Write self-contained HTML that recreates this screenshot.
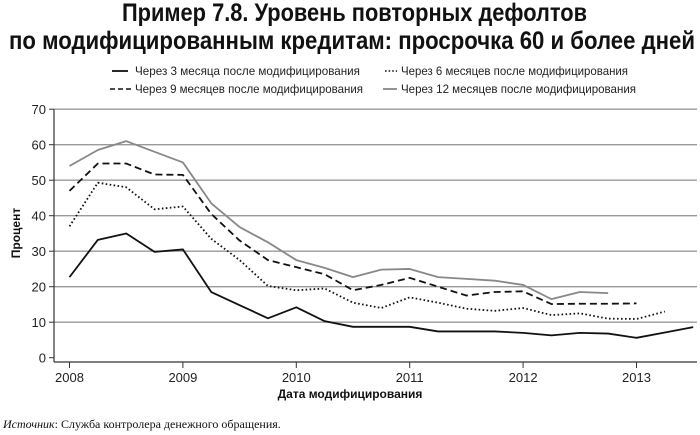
<!DOCTYPE html>
<html><head><meta charset="utf-8"><style>
html,body{margin:0;padding:0;background:#fff;}
svg{display:block;font-family:"Liberation Sans",sans-serif;}
</style></head><body>
<svg id="chart" width="700" height="435" viewBox="0 0 700 435">
<g font-weight="bold" font-size="25" fill="#111">
<text x="122" y="21" textLength="465" lengthAdjust="spacingAndGlyphs">Пример 7.8. Уровень повторных дефолтов</text>
<text x="9" y="49" textLength="686" lengthAdjust="spacingAndGlyphs">по модифицированным кредитам: просрочка 60 и более дней</text>
</g>
<g font-size="12" fill="#222">
<g><line x1="112" y1="71" x2="128" y2="71" stroke="#111" stroke-width="1.8"/><text x="135" y="75" textLength="225" lengthAdjust="spacingAndGlyphs">Через 3 месяца после модифицирования</text></g>
<g><line x1="385" y1="71" x2="397" y2="71" stroke="#111" stroke-width="1.6" stroke-dasharray="1.6,2"/><text x="401" y="75" textLength="227" lengthAdjust="spacingAndGlyphs">Через 6 месяцев после модифицирования</text></g>
<g><line x1="110" y1="89" x2="132" y2="89" stroke="#111" stroke-width="1.6" stroke-dasharray="5,3"/><text x="135" y="93" textLength="228" lengthAdjust="spacingAndGlyphs">Через 9 месяцев после модифицирования</text></g>
<g><line x1="383" y1="89" x2="397" y2="89" stroke="#888" stroke-width="1.8"/><text x="401" y="93" textLength="235" lengthAdjust="spacingAndGlyphs">Через 12 месяцев после модифицирования</text></g>
</g>
<g id="grid"></g><g id="axes"></g><g id="series"></g>
<text x="20" y="233" transform="rotate(-90 20 233)" text-anchor="middle" font-size="12" font-weight="bold" fill="#111">Процент</text>
<text x="350" y="398" text-anchor="middle" font-size="12" font-weight="bold" fill="#111">Дата модифицирования</text>
<text x="3" y="428" font-size="12" fill="#111" font-family="Liberation Serif,serif"><tspan font-style="italic">Источник</tspan>: Служба контролера денежного обращения.</text>
</svg>
<script>
const yTicks=[0,10,20,30,40,50,60,70];
const xYears=["2008","2009","2010","2011","2012","2013"];
const s3m=[22.7,33.2,35,29.8,30.5,18.5,14.8,11.1,14.2,10.3,8.7,8.7,8.7,7.4,7.4,7.4,7.0,6.3,7.0,6.8,5.6,7.1,8.6];
const s6m=[37,49.3,48,41.8,42.6,33.5,27.5,20.2,19,19.5,15.5,14,17,15.5,13.8,13.2,14.0,12.0,12.5,11.0,10.9,13.0];
const s9m=[47,54.7,54.7,51.6,51.5,40.5,33,27.5,25.5,23.5,19,20.5,22.5,20,17.5,18.5,18.7,15.1,15.2,15.2,15.3];
const s12m=[54,58.5,61,58,55,43.5,36.8,32.5,27.5,25.3,22.7,24.8,25,22.7,22.2,21.7,20.5,16.5,18.5,18.2];
const NS="http://www.w3.org/2000/svg";
const x=q=>69.5+q*28.35;
const y=v=>357.7-v*3.55;
function mk(tag,at,parent){const e=document.createElementNS(NS,tag);for(const k in at)e.setAttribute(k,at[k]);parent.appendChild(e);return e;}
const grid=document.getElementById('grid'),axes=document.getElementById('axes'),ser=document.getElementById('series');
yTicks.forEach(v=>{
  if(v>0){const g=mk('line',{x1:54,x2:697,y1:y(v),y2:y(v),stroke:'#999','stroke-width':1.3},grid);
  
  }
  const tk=mk('line',{x1:49,x2:54,y1:y(v),y2:y(v),stroke:'#333','stroke-width':1},axes);
  
  
  const t=mk('text',{x:46,y:y(v)+5,'text-anchor':'end','font-size':13,fill:'#222'},axes);
  t.textContent=v;
  
  
});
const ya=mk('line',{x1:54,x2:54,y1:y(70),y2:362,stroke:'#333','stroke-width':1.2},axes);


const xa=mk('line',{x1:54,x2:697,y1:362,y2:362,stroke:'#333','stroke-width':1.2},axes);


xYears.forEach((yr,i)=>{
  const tk=mk('line',{x1:x(i*4),x2:x(i*4),y1:362,y2:368,stroke:'#333','stroke-width':1},axes);
  
  
  const t=mk('text',{x:x(i*4),y:382,'text-anchor':'middle','font-size':13,fill:'#222'},axes);
  t.textContent=yr;
  
  
});
function line(data,stroke,dash,w,name){
  const p=mk('polyline',{points:data.map((v,i)=>x(i)+','+y(v)).join(' '),fill:'none',stroke:stroke,'stroke-width':w,'stroke-dasharray':dash,'stroke-linejoin':'round'},ser);
  
  
}
line(s12m,'#888','none',1.8,'series-12-months');
line(s9m,'#111','7,4',1.8,'series-9-months');
line(s6m,'#111','1.6,2.4',1.8,'series-6-months');
line(s3m,'#111','none',1.8,'series-3-months');
</script>
</body></html>
